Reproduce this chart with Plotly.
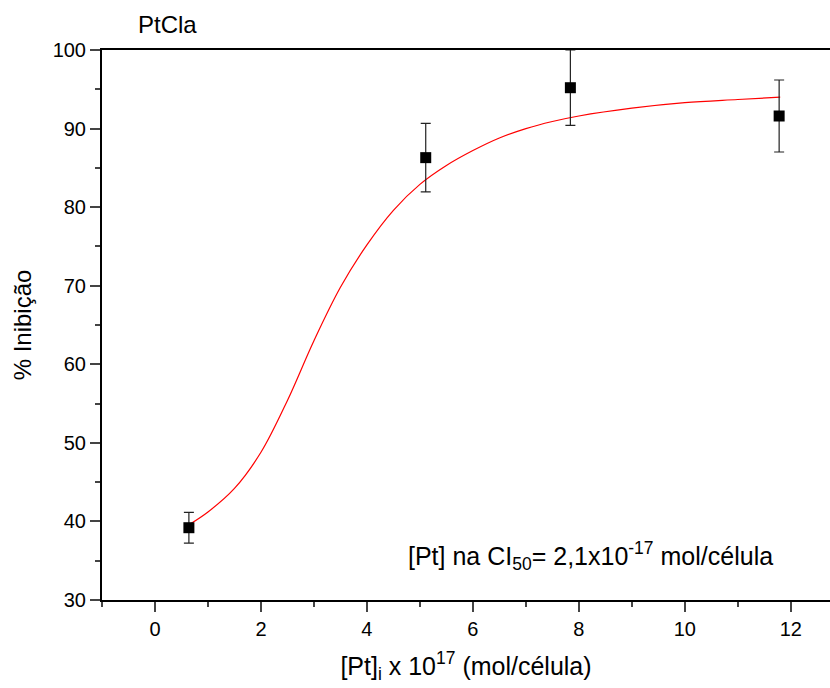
import plotly.graph_objects as go

# Measured data (points with error bars)
conc = [0.64, 5.11, 7.84, 11.78]
inhib = [39.2, 86.3, 95.2, 91.6]
err = [1.95, 4.35, 4.8, 4.58]

# Fitted curve
fit_x = [0.647, 1.0, 1.5, 2.0, 2.5, 3.0, 3.5, 4.0, 4.5, 5.0, 5.5, 6.0, 6.5, 7.0, 7.5,
         8.0, 9.0, 10.0, 11.0, 11.8]
fit_y = [39.6, 41.2, 44.2, 48.8, 55.4, 63.0, 69.8, 75.2, 79.6, 82.9, 85.3, 87.2, 88.8,
         90.0, 90.9, 91.6, 92.6, 93.3, 93.7, 94.0]

x_ticks = [0, 2, 4, 6, 8, 10, 12]
y_ticks = [30, 40, 50, 60, 70, 80, 90, 100]

FONT = "Liberation Sans, Arial, sans-serif"

fig = go.Figure()
fig.add_trace(go.Scatter(x=fit_x, y=fit_y, mode="lines",
                         line=dict(color="red", width=1.2, shape="spline", smoothing=1.0),
                         hoverinfo="skip", showlegend=False))
fig.add_trace(go.Scatter(x=conc, y=inhib, mode="markers",
                         marker=dict(symbol="square", size=11, color="black"),
                         error_y=dict(type="data", array=err, visible=True, color="#222222",
                                      thickness=1.2, width=5),
                         showlegend=False, cliponaxis=True))

fig.update_layout(
    width=830, height=688,
    margin=dict(l=102, r=0, t=50, b=88),
    plot_bgcolor="white", paper_bgcolor="white",
    font=dict(family=FONT, color="black", size=20),
    title=dict(text="PtCla", x=138 / 830, xanchor="left", y=1 - 25 / 688, yanchor="middle",
               font=dict(size=24, family=FONT)),
    xaxis=dict(range=[-1, 12.74], tickvals=x_ticks, ticks="outside", ticklen=10, tickwidth=1.5,
               showline=True, linecolor="black", linewidth=2, mirror=True, showgrid=False,
               zeroline=False, tickfont=dict(size=20),
               minor=dict(dtick=1, tick0=1, ticks="outside", ticklen=5, tickwidth=1.5, showgrid=False),
               title=dict(text="[Pt]<sub>i</sub> x 10<sup>17</sup> (mol/célula)", font=dict(size=25),
                          standoff=18)),
    yaxis=dict(range=[30, 100], tickvals=y_ticks, ticks="outside", ticklen=10, tickwidth=1.5,
               showline=True, linecolor="black", linewidth=2, showgrid=False, zeroline=False,
               tickfont=dict(size=20),
               minor=dict(dtick=5, tick0=35, ticks="outside", ticklen=5, tickwidth=1.5, showgrid=False),
               title=dict(text="% Inibição", font=dict(size=24), standoff=14)),
    annotations=[dict(text="[Pt] na CI<sub>50</sub>= 2,1x10<sup>-17</sup> mol/célula",
                      x=0.925, y=0.08, xref="paper", yref="paper", xanchor="right", yanchor="middle",
                      showarrow=False, font=dict(size=25, family=FONT))],
)

fig.write_html("out.html")
